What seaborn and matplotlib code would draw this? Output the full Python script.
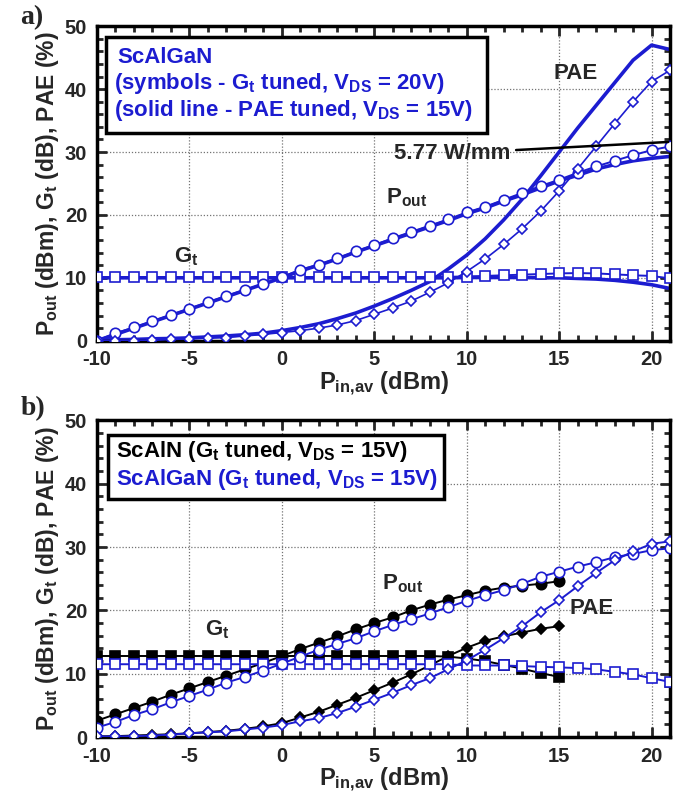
import matplotlib
matplotlib.use("Agg")
import matplotlib.pyplot as plt
import numpy as np
import pandas as pd
import seaborn as sns
from matplotlib.patches import Rectangle
from matplotlib.ticker import MultipleLocator

# input power sweep (dBm)
pin_full = list(range(-10, 22))
pin_scaln = list(range(-10, 16))

# panel a) ScAlGaN, symbols = Gt tuned @ 20 V, solid = PAE tuned @ 15 V
a_pout_sym = [0.0, 1.2, 2.1, 3.1, 4.1, 5.1, 6.1, 7.1, 8.1, 9.0, 10.1, 11.3, 12.1, 13.1, 14.2, 15.2,
              16.3, 17.3, 18.3, 19.3, 20.4, 21.3, 22.4, 23.5, 24.6, 25.6, 26.7, 27.7, 28.6, 29.5, 30.3, 30.9]
a_pout_line = [0.0, 1.0, 2.0, 3.0, 4.0, 5.0, 6.0, 7.0, 8.0, 9.0, 10.0, 11.1, 12.0, 13.0, 14.1, 15.1,
               16.1, 17.1, 18.1, 19.1, 20.2, 21.1, 22.2, 23.2, 24.3, 25.4, 26.3, 27.3, 28.0, 28.6, 29.0, 29.3]
a_gt_sym = [10.1, 10.1, 10.1, 10.1, 10.1, 10.1, 10.1, 10.1, 10.1, 10.1, 10.1, 10.1, 10.1, 10.1, 10.1, 10.1,
            10.1, 10.1, 10.1, 10.15, 10.2, 10.3, 10.4, 10.5, 10.6, 10.7, 10.75, 10.7, 10.55, 10.4, 10.3, 9.9]
a_gt_line = [10.0, 10.0, 10.0, 10.0, 10.0, 10.0, 10.0, 10.0, 10.0, 10.0, 10.0, 10.0, 10.0, 10.0, 10.0, 10.0,
             10.0, 10.0, 10.0, 10.0, 10.05, 10.05, 10.05, 10.05, 10.0, 10.0, 9.9, 9.8, 9.6, 9.3, 8.9, 8.3]
a_pae_sym = [0.0, 0.0, 0.0, 0.05, 0.2, 0.3, 0.4, 0.5, 0.75, 1.0, 1.3, 1.6, 2.0, 2.5, 3.2, 4.2,
             5.2, 6.3, 7.7, 9.2, 11.0, 13.0, 15.3, 17.8, 20.6, 23.8, 27.3, 30.9, 34.5, 38.0, 41.2, 43.0]
a_pae_line = [0.1, 0.15, 0.2, 0.3, 0.35, 0.45, 0.6, 0.75, 0.95, 1.2, 1.6, 2.1, 2.7, 3.5, 4.4, 5.5,
              6.7, 8.0, 9.4, 11.4, 13.6, 16.2, 19.2, 22.5, 26.2, 30.0, 33.8, 37.4, 41.0, 44.6, 47.0, 46.3]

# panel b) ScAlN vs ScAlGaN, Gt tuned @ 15 V
b_pout_scaln = [2.6, 3.6, 4.6, 5.6, 6.7, 7.7, 8.7, 9.7, 10.7, 11.7, 12.8, 13.9, 14.9,
                15.9, 17.0, 18.0, 18.9, 20.0, 20.9, 21.7, 22.4, 23.1, 23.6, 23.9, 24.2, 24.6]
b_gt_scaln = [12.8, 12.8, 12.8, 12.8, 12.8, 12.8, 12.8, 12.8, 12.8, 12.8, 12.8, 12.8, 12.8,
              12.8, 12.8, 12.8, 12.8, 12.8, 12.8, 12.7, 12.4, 12.0, 11.4, 10.8, 10.1, 9.5]
b_pae_scaln = [0.1, 0.15, 0.25, 0.35, 0.45, 0.6, 0.8, 1.0, 1.3, 1.7, 2.2, 3.1, 4.0,
               5.1, 6.2, 7.4, 8.6, 9.9, 11.3, 12.8, 14.1, 15.2, 15.9, 16.5, 17.1, 17.5]
b_pout_scalgan = [1.5, 2.4, 3.5, 4.4, 5.5, 6.5, 7.5, 8.6, 9.5, 10.5, 11.6, 12.7, 13.8, 14.7, 15.6, 16.7,
                  17.7, 18.6, 19.5, 20.5, 21.5, 22.4, 23.2, 24.2, 25.3, 26.1, 26.9, 27.6, 28.4, 28.9, 29.5, 29.8]
b_gt_scalgan = [11.5, 11.5, 11.5, 11.5, 11.5, 11.5, 11.5, 11.5, 11.5, 11.5, 11.5, 11.5, 11.5, 11.5, 11.5, 11.5,
                11.5, 11.5, 11.5, 11.5, 11.3, 11.3, 11.3, 11.2, 11.1, 11.0, 10.9, 10.7, 10.3, 9.9, 9.3, 8.7]
b_pae_scalgan = [0.1, 0.1, 0.15, 0.25, 0.4, 0.6, 0.75, 0.9, 1.2, 1.5, 1.9, 2.5, 3.0, 3.8, 4.8, 5.9,
                 7.0, 8.2, 9.3, 10.7, 12.1, 13.8, 15.6, 17.5, 19.7, 21.6, 23.8, 25.9, 27.9, 29.3, 30.5, 30.9]

BLUE = "#1c1cd0"
BLACK = "black"

sns.set_style("ticks")
plt.rcParams["font.family"] = ["Liberation Sans", "DejaVu Sans"]
plt.rcParams["font.weight"] = "bold"
plt.rcParams["axes.labelweight"] = "bold"
plt.rcParams["axes.unicode_minus"] = False
plt.rcParams["mathtext.fontset"] = "custom"
plt.rcParams["mathtext.bf"] = "Liberation Sans:bold"
plt.rcParams["mathtext.rm"] = "Liberation Sans:bold"
plt.rcParams["mathtext.default"] = "bf"


def sym(ax, x, y, color, marker, filled, ms=7, lw=1.4, z=3):
    sns.lineplot(x=x, y=y, ax=ax, color=color, lw=lw, marker=marker, ms=ms,
                 markerfacecolor=color if filled else "white", markeredgecolor=color,
                 markeredgewidth=1.2, zorder=z, sort=False, estimator=None)


def style_axes(ax):
    ax.set_xlim(-10, 21)
    ax.set_ylim(0, 50)
    ax.xaxis.set_major_locator(MultipleLocator(5))
    ax.xaxis.set_minor_locator(MultipleLocator(1))
    ax.yaxis.set_major_locator(MultipleLocator(10))
    ax.yaxis.set_minor_locator(MultipleLocator(2))
    ax.tick_params(which="both", direction="in", top=True, right=True, width=2, labelsize=14.5)
    ax.tick_params(which="major", length=7)
    ax.tick_params(axis="x", which="major", pad=7)
    ax.tick_params(axis="y", which="major", pad=7)
    ax.tick_params(which="minor", length=4)
    for s in ax.spines.values():
        s.set_linewidth(2.5)
        s.set_color("black")
    ax.grid(True, which="major", ls=(0, (1, 1.5)), color="0.45", lw=0.9, zorder=0)
    ax.set_axisbelow(True)
    ax.set_xlabel("P$_{in{,}av}$ (dBm)", fontsize=17, labelpad=0)
    ax.set_ylabel("P$_{out}$ (dBm), G$_{t}$ (dB), PAE (%)", fontsize=16.5, labelpad=3)


fig = plt.figure(figsize=(6.83, 7.96), dpi=100)
ax_a = fig.add_axes([0.142, 0.572, 0.839, 0.395])
ax_b = fig.add_axes([0.142, 0.074, 0.839, 0.398])

# ---- panel a ----
for vals in (a_pout_line, a_gt_line, a_pae_line):
    sns.lineplot(x=pin_full, y=vals, ax=ax_a, color=BLUE, lw=2.6, zorder=2, sort=False, estimator=None)
sym(ax_a, pin_full, a_gt_sym, BLUE, "s", False, ms=7.5)
sym(ax_a, pin_full, a_pout_sym, BLUE, "o", False, ms=7.5)
sym(ax_a, pin_full, a_pae_sym, BLUE, "D", False, ms=5.5, lw=1.2)
style_axes(ax_a)

ax_a.add_patch(Rectangle((0.016, 0.662), 0.664, 0.304, transform=ax_a.transAxes,
                         facecolor="white", edgecolor="black", lw=2.5, zorder=5))
ax_a.text(0.035, 0.882, "ScAlGaN", transform=ax_a.transAxes, color=BLUE, fontsize=16,
          va="baseline", zorder=6)
ax_a.text(0.030, 0.802, "(symbols - G$_t$ tuned, V$_{DS}$ = 20V)", transform=ax_a.transAxes,
          color=BLUE, fontsize=16, va="baseline", zorder=6)
ax_a.text(0.030, 0.716, "(solid line - PAE tuned, V$_{DS}$ = 15V)", transform=ax_a.transAxes,
          color=BLUE, fontsize=16, va="baseline", zorder=6)

ax_a.text(14.67, 41.6, "PAE", fontsize=16, va="baseline", zorder=6)
ax_a.text(5.63, 21.8, "P$_{out}$", fontsize=16, va="baseline", zorder=6)
ax_a.text(-5.86, 12.4, "G$_{t}$", fontsize=16, va="baseline", zorder=6)
ax_a.annotate("5.77 W/mm", xy=(20.9, 31.6), xytext=(6.05, 28.9), fontsize=16, va="baseline",
              ha="left", zorder=6,
              arrowprops=dict(arrowstyle="-", color="black", lw=1.8, shrinkA=2, shrinkB=0))

fig.text(0.03, 0.978, "a)", fontsize=20, family="Liberation Serif", weight="bold", va="center")

# ---- panel b ----
sym(ax_b, pin_full, b_gt_scalgan, BLUE, "s", False, ms=7.5)
sym(ax_b, pin_full, b_pout_scalgan, BLUE, "o", False, ms=7.5)
sym(ax_b, pin_full, b_pae_scalgan, BLUE, "D", False, ms=5.5, lw=1.4)
sym(ax_b, pin_scaln, b_gt_scaln, BLACK, "s", True, ms=7.5, z=2)
sym(ax_b, pin_scaln, b_pout_scaln, BLACK, "o", True, ms=7.5, z=2)
sym(ax_b, pin_scaln, b_pae_scaln, BLACK, "D", True, ms=5.5, z=2)
style_axes(ax_b)

ax_b.add_patch(Rectangle((0.019, 0.75), 0.587, 0.204, transform=ax_b.transAxes,
                         facecolor="white", edgecolor="black", lw=2.5, zorder=5))
ax_b.text(0.033, 0.884, "ScAlN (G$_t$ tuned, V$_{DS}$ = 15V)", transform=ax_b.transAxes,
          color=BLACK, fontsize=16, va="baseline", zorder=6)
ax_b.text(0.033, 0.796, "ScAlGaN (G$_t$ tuned, V$_{DS}$ = 15V)", transform=ax_b.transAxes,
          color=BLUE, fontsize=16, va="baseline", zorder=6)

ax_b.text(15.55, 19.5, "PAE", fontsize=16, va="baseline", zorder=6)
ax_b.text(5.42, 23.3, "P$_{out}$", fontsize=16, va="baseline", zorder=6)
ax_b.text(-4.16, 16.0, "G$_{t}$", fontsize=16, va="baseline", zorder=6)

fig.text(0.03, 0.487, "b)", fontsize=20, family="Liberation Serif", weight="bold", va="center")

fig.savefig("out.png", dpi=100)
